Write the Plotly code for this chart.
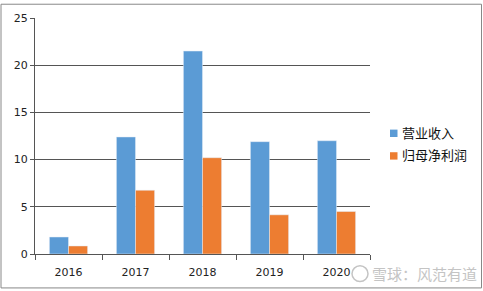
import plotly.graph_objects as go

years = ["2016", "2017", "2018", "2019", "2020"]
revenue = [1.8, 12.4, 21.5, 11.9, 12.0]
net_profit = [0.85, 6.75, 10.2, 4.15, 4.5]
series_names = ["营业收入", "归母净利润"]
series_colors = ["#5B9BD5", "#ED7D31"]

L, R, T, B = 35, 113, 15, 36
W, H = 483, 291
pw, ph = W - L - R, H - T - B

def px(x):
    return (x - L) / pw

def py(y):
    return (H - B - y) / ph

fig = go.Figure()
fig.add_trace(go.Bar(x=years, y=revenue, name=series_names[0], marker_color=series_colors[0]))
fig.add_trace(go.Bar(x=years, y=net_profit, name=series_names[1], marker_color=series_colors[1]))

shapes = [dict(type="rect", xref="paper", yref="paper",
               x0=px(1), x1=px(481.5), y0=py(289.5), y1=py(1),
               line=dict(color="#888", width=1), fillcolor="rgba(0,0,0,0)"),
          dict(type="circle", xref="paper", yref="paper",
               x0=px(352), x1=px(368), y0=py(283), y1=py(267),
               line=dict(color="#c4c4c4", width=1.5), fillcolor="rgba(0,0,0,0)")]
annotations = [dict(text="雪球：风范有道", xref="paper", yref="paper",
                    x=px(370), y=py(275), xanchor="left", yanchor="middle",
                    showarrow=False,
                    font=dict(family="Noto Sans CJK SC", size=15, color="#c4c4c4"))]

legend_y = [131, 154]
for name, color, yc in zip(series_names, series_colors, legend_y):
    shapes.append(dict(type="rect", xref="paper", yref="paper",
                       x0=px(390), x1=px(397.5), y0=py(yc + 5), y1=py(yc - 2.5),
                       line=dict(color=color, width=0), fillcolor=color))
    annotations.append(dict(text=name, xref="paper", yref="paper",
                            x=px(400), y=py(yc), xanchor="left", yanchor="middle",
                            showarrow=False,
                            font=dict(family="Noto Sans CJK SC", size=13, color="#111")))

fig.update_layout(
    width=W, height=H,
    margin=dict(l=L, r=R, t=T, b=B),
    paper_bgcolor="white", plot_bgcolor="white",
    barmode="group", bargap=0.43, bargroupgap=0,
    showlegend=False,
    font=dict(family="DejaVu Sans, Verdana", size=11, color="#222"),
    xaxis=dict(type="category", showline=True, linecolor="#555", linewidth=1,
               ticks="outside", tickson="boundaries", ticklen=5, tickcolor="#555",
               ticklabelstandoff=8,
               showgrid=False, tickfont=dict(size=11)),
    yaxis=dict(range=[0, 25], dtick=5, showline=True, linecolor="#555", linewidth=1,
               ticks="outside", ticklen=4, tickcolor="#555",
               gridcolor="#555", gridwidth=1, zeroline=False, tickfont=dict(size=11)),
    shapes=shapes,
    annotations=annotations,
)

fig.write_html("out.html")
